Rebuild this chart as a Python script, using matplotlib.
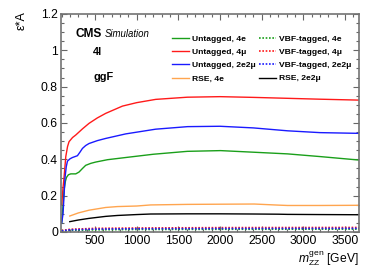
import matplotlib
matplotlib.use("Agg")
import matplotlib.pyplot as plt
from matplotlib.ticker import MultipleLocator

plt.rcParams['font.family'] = ['Liberation Sans', 'DejaVu Sans']
plt.rcParams['mathtext.fontset'] = 'custom'
plt.rcParams['mathtext.rm'] = 'Liberation Sans'
plt.rcParams['mathtext.it'] = 'Liberation Sans:italic'

# untagged curves
m_red = [100, 115, 128, 149, 170, 188, 230, 269, 350, 428, 528, 628, 829, 1000, 1228, 1608, 2000, 2400, 2800, 3200, 3670]
untag_4mu = [0.15, 0.24, 0.30, 0.415, 0.47, 0.497, 0.52, 0.534, 0.568, 0.598, 0.628, 0.653, 0.693, 0.712, 0.73, 0.742, 0.745, 0.741, 0.736, 0.731, 0.726]

m_blue = [100, 116, 128, 140, 155, 169, 200, 229, 289, 320, 349, 388, 428, 528, 628, 868, 1228, 1612, 2000, 2400, 2811, 3200, 3670]
untag_2e2mu = [0.05, 0.10, 0.20, 0.30, 0.36, 0.39, 0.403, 0.41, 0.42, 0.44, 0.46, 0.476, 0.487, 0.503, 0.515, 0.54, 0.566, 0.58, 0.582, 0.573, 0.557, 0.547, 0.543]

m_green = [100, 115, 128, 145, 157, 180, 209, 269, 308, 350, 388, 450, 508, 650, 868, 1200, 1608, 2007, 2411, 2811, 3206, 3670]
untag_4e = [0.05, 0.14, 0.23, 0.28, 0.30, 0.315, 0.32, 0.32, 0.33, 0.35, 0.367, 0.378, 0.385, 0.398, 0.41, 0.428, 0.444, 0.448, 0.439, 0.43, 0.415, 0.396]

# RSE curves
m_rse = [197, 300, 428, 628, 769, 1000, 1168, 1608, 2000, 2411, 2700, 2811, 3200, 3670]
rse_4e = [0.088, 0.105, 0.12, 0.135, 0.14, 0.143, 0.149, 0.152, 0.153, 0.154, 0.148, 0.146, 0.146, 0.147]
rse_2e2mu = [0.057, 0.066, 0.075, 0.086, 0.091, 0.096, 0.099, 0.100, 0.100, 0.099, 0.098, 0.097, 0.096, 0.095]

# VBF-tagged curves
m_vbf = [100, 200, 500, 1000, 2000, 3670]
vbf_4mu = [0.008, 0.015, 0.02, 0.022, 0.024, 0.025]
vbf_2e2mu = [0.006, 0.012, 0.016, 0.018, 0.019, 0.02]
vbf_4e = [0.004, 0.009, 0.012, 0.014, 0.015, 0.016]

fig = plt.figure(figsize=(3.74, 2.68), dpi=100)
ax = fig.add_axes([60.7/374, 1-232/268, (359.3-60.7)/374, (232-14)/268])

green, red, blue, orange = '#1a9f1a', '#ff1a1a', '#1a1aff', '#ffa54f'
l1, = ax.plot(m_green, untag_4e, color=green, lw=1.0, label='Untagged, 4e')
l2, = ax.plot(m_red, untag_4mu, color=red, lw=1.0, label='Untagged, 4\u03bc')
l3, = ax.plot(m_blue, untag_2e2mu, color=blue, lw=1.0, label='Untagged, 2e2\u03bc')
l4, = ax.plot(m_rse, rse_4e, color=orange, lw=1.0, label='RSE, 4e')
l5, = ax.plot(m_vbf, vbf_4e, color=green, lw=1.2, ls=(0, (1, 1)), label='VBF-tagged, 4e')
l6, = ax.plot(m_vbf, vbf_4mu, color=red, lw=1.2, ls=(0, (1, 1)), label='VBF-tagged, 4\u03bc')
l7, = ax.plot(m_vbf, vbf_2e2mu, color=blue, lw=1.2, ls=(0, (1, 1)), label='VBF-tagged, 2e2\u03bc')
l8, = ax.plot(m_rse, rse_2e2mu, color='black', lw=1.0, label='RSE, 2e2\u03bc')

ax.set_xlim(88, 3672)
ax.set_ylim(0, 1.2)
ax.xaxis.set_major_locator(MultipleLocator(500))
ax.xaxis.set_minor_locator(MultipleLocator(100))
ax.yaxis.set_major_locator(MultipleLocator(0.2))
ax.yaxis.set_minor_locator(MultipleLocator(0.05))
ax.yaxis.set_major_formatter(plt.FuncFormatter(lambda v, p: '%g' % round(v, 2)))
ax.tick_params(which='both', direction='in', top=True, right=True, labelsize=8.7,
               color='0.4', pad=2)
ax.tick_params(which='major', length=4.5, width=0.8)
ax.tick_params(which='minor', length=2.2, width=0.8)
for s in ax.spines.values():
    s.set_color('0.45')
    s.set_linewidth(1.2)

fig.text(22/374, 1-21/268, '\u03b5*A', rotation=90, ha='center', va='center', fontsize=9)
fig.text(359/374, 1-262/268, r'$m_{\mathrm{ZZ}}^{\mathrm{gen}}$ [GeV]', ha='right', va='baseline', fontsize=8.7)

fig.text(75/374, 1-37/268, 'CMS', fontweight='bold', fontsize=8.6, va='baseline')
fig.text(105/374, 1-37/268, 'Simulation', fontstyle='italic', fontsize=6.9, va='baseline')
fig.text(93/374, 1-52/268, '4l', fontweight='bold', fontsize=7.8, va='center')
fig.text(93/374, 1-77/268, 'ggF', fontweight='bold', fontsize=7.8, va='center')

ax.legend(handles=[l1, l2, l3, l4, l5, l6, l7, l8], ncol=2, frameon=False,
          loc='upper left', bbox_to_anchor=(171.7/374, 1-35/268), bbox_transform=fig.transFigure,
          prop={'weight': 'bold', 'size': 6.1}, handlelength=2.0, handletextpad=0.35,
          columnspacing=0.45, labelspacing=0.62, borderpad=0, borderaxespad=0)

fig.savefig('out.png', dpi=100)
